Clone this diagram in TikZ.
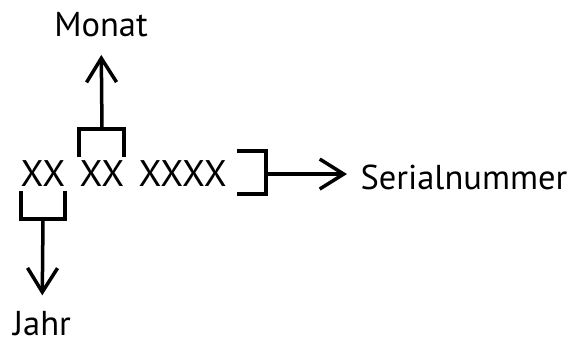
\documentclass[tikz,border=0pt]{standalone}
\usepackage{fontspec}
\setmainfont{PT Sans}
\usepackage{tikz}
\usetikzlibrary{arrows.meta, positioning}
\tikzstyle{code}      = [inner xsep=0pt, inner ysep=4pt,
                         font=\fontsize{37}{40}\selectfont]
\tikzstyle{fieldname} = [font=\fontsize{34.5}{40}\selectfont]
\tikzstyle{bracket}   = [line width=4pt]
\tikzstyle{arrow}     = [line width=3.5pt, -{Straight Barb[length=24pt,width=30pt]}]

\begin{document}
\begin{tikzpicture}[x=1pt, y=1pt]
  \useasboundingbox (0,0) rectangle (578,345);
  % number XX XX XXXX
  \node[code, anchor=base] (jj) at (43,158) {XX};
  \node[code, base right=14pt of jj] (mm) {XX};
  \node[code, base right=14pt of mm] (nr) {XXXX};

  \node[fieldname, anchor=base]      (monat)  at (101,308) {Monat};
  \node[fieldname, anchor=base]      (jahr)   at (42,9)    {Jahr};
  \node[fieldname, anchor=base west] (serial) at (357,155) {Serialnummer};

  % brackets
  \draw[bracket] (jj.south west) -- ++(0,-28) -| (jj.south east);
  \draw[bracket] (mm.north west) -- ++(0,28) -| (mm.north east);
  \draw[bracket] ([xshift=10pt,yshift=6pt]nr.north east) -| ([xshift=39pt]nr.east)
                 |- ([xshift=10pt,yshift=-3pt]nr.south east);
  \coordinate (jjb) at ([yshift=-28pt]jj.south);
  \coordinate (mmb) at ([yshift=28pt]mm.north);
  \coordinate (nrb) at ([xshift=39pt]nr.east);

  \draw[arrow, shorten >=13pt] (jjb) -- (jahr);
  \draw[arrow, shorten >=14pt] (mmb) -- (monat);
  \draw[arrow, shorten >=10pt] (nrb) -- (nrb -| serial.west);
\end{tikzpicture}
\end{document}
